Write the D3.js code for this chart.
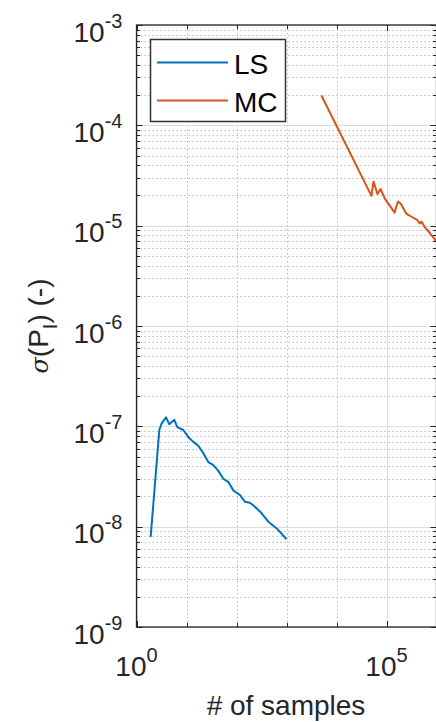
<!DOCTYPE html>
<html>
<head>
<meta charset="utf-8">
<script src="https://cdn.jsdelivr.net/npm/d3@7"></script>
<style>
    html, body { margin: 0; padding: 0; background: #fff; }
    svg { display: block; font-family: "Liberation Sans", Arial, sans-serif; }
</style>
</head>
<body>
<div id="chart"></div>
<script>
// Values (log-log plot, MATLAB look)
const lsSamples = [1.92, 2.86, 3.19, 3.89, 4.53, 5.70, 6.55, 8.63, 10.9, 13.7, 17.2, 21.7, 27.3,
    34.4, 43.3, 54.5, 68.5, 86.3, 117, 148, 186, 234, 319, 433, 637, 1000];
const lsSigma = [7.9e-9, 9.2e-8, 1.07e-7, 1.23e-7, 1.05e-7, 1.16e-7, 9.8e-8, 9.2e-8, 7.8e-8, 7.0e-8,
    6.4e-8, 5.4e-8, 4.4e-8, 4.1e-8, 3.6e-8, 3.0e-8, 2.8e-8, 2.3e-8, 2.07e-8, 1.77e-8, 1.73e-8,
    1.58e-8, 1.36e-8, 1.12e-8, 9.6e-9, 7.5e-9];

const mcSamples = [5000, 50000, 55000, 66000, 75900, 93300, 129000, 145000, 170000, 195000,
    251000, 324000, 407000, 468000, 501000, 589000, 741000, 1000000];
const mcSigma = [1.98e-4, 1.98e-5, 2.75e-5, 2.07e-5, 2.32e-5, 1.85e-5, 1.47e-5, 1.35e-5, 1.74e-5,
    1.64e-5, 1.31e-5, 1.22e-5, 1.14e-5, 1.05e-5, 1.10e-5, 9.6e-6, 8.4e-6, 6.97e-6];

const seriesNames = ['LS', 'MC'];
const seriesColors = ['#0072BD', '#D95319'];

const xMajorTicks = [1, 1e5];
const xMinorTicks = [1e1, 1e2, 1e3, 1e4, 1e6];
const yMajorTicks = [1e-9, 1e-8, 1e-7, 1e-6, 1e-5, 1e-4, 1e-3];

const xLabel = '# of samples';

function drawChart() {
    const width = 436, height = 722;
    const left = 136.5, right = 436.5, top = 25, bottom = 627;
    const axisColor = '#262626';

    const svg = d3.select('#chart')
        .append('svg')
        .attr('width', width)
        .attr('height', height);

    svg.append('rect')
        .attr('width', width)
        .attr('height', height)
        .attr('fill', '#fff');

    const x = d3.scaleLog().domain([1, 1e6]).range([left, right]);
    const y = d3.scaleLog().domain([1e-9, 1e-3]).range([bottom, top]);

    // minor y values: 2..9 inside each decade
    const yMinorTicks = [];
    yMajorTicks.slice(0, -1).forEach(d => {
        for (let k = 2; k <= 9; k++) yMinorTicks.push(k * d);
    });

    // grid, minor dotted first then major solid
    const grid = svg.append('g');
    grid.selectAll('.ygm')
        .data(yMinorTicks)
        .join('line')
        .attr('x1', left).attr('x2', right)
        .attr('y1', d => Math.round(y(d)) + 0.5)
        .attr('y2', d => Math.round(y(d)) + 0.5)
        .attr('stroke', '#bcbcbc')
        .attr('stroke-dasharray', '1.5,2.5');
    grid.selectAll('.xgm')
        .data(xMinorTicks)
        .join('line')
        .attr('y1', top).attr('y2', bottom)
        .attr('x1', d => Math.round(x(d)) + 0.5)
        .attr('x2', d => Math.round(x(d)) + 0.5)
        .attr('stroke', '#bcbcbc')
        .attr('stroke-dasharray', '1.5,2.5');
    grid.selectAll('.ygM')
        .data(yMajorTicks)
        .join('line')
        .attr('x1', left).attr('x2', right)
        .attr('y1', d => Math.round(y(d)) + 0.5)
        .attr('y2', d => Math.round(y(d)) + 0.5)
        .attr('stroke', '#dcdcdc');
    grid.selectAll('.xgM')
        .data(xMajorTicks)
        .join('line')
        .attr('y1', top).attr('y2', bottom)
        .attr('x1', d => Math.round(x(d)) + 0.5)
        .attr('x2', d => Math.round(x(d)) + 0.5)
        .attr('stroke', '#dcdcdc');

    // data lines
    svg.append('clipPath')
        .attr('id', 'plot-clip')
        .append('rect')
        .attr('x', left).attr('y', top)
        .attr('width', right - left).attr('height', bottom - top);

    const line = d3.line()
        .x(d => x(d[0]))
        .y(d => y(d[1]));

    const series = [
        d3.zip(lsSamples, lsSigma),
        d3.zip(mcSamples, mcSigma)
    ];

    svg.append('g')
        .attr('clip-path', 'url(#plot-clip)')
        .selectAll('path')
        .data(series)
        .join('path')
        .attr('fill', 'none')
        .attr('stroke', (d, i) => seriesColors[i])
        .attr('stroke-width', 2)
        .attr('stroke-linejoin', 'round')
        .attr('d', line);

    // ticks on all four sides (pointing inward)
    const tickG = svg.append('g').attr('stroke', axisColor).attr('stroke-width', 1);
    const addTicks = (vals, len, horizontal) => {
        vals.forEach(v => {
            if (horizontal) {
                const py = Math.round(y(v)) + 0.5;
                tickG.append('line').attr('x1', left).attr('x2', left + len).attr('y1', py).attr('y2', py);
                tickG.append('line').attr('x1', right).attr('x2', right - len).attr('y1', py).attr('y2', py);
            } else {
                const px = Math.round(x(v)) + 0.5;
                tickG.append('line').attr('y1', bottom).attr('y2', bottom - len).attr('x1', px).attr('x2', px);
                tickG.append('line').attr('y1', top).attr('y2', top + len).attr('x1', px).attr('x2', px);
            }
        });
    };
    addTicks(yMajorTicks, 6, true);
    addTicks(yMinorTicks, 3.5, true);
    addTicks(xMajorTicks, 6, false);
    addTicks(xMinorTicks, 4, false);

    // axis box
    svg.append('rect')
        .attr('x', left).attr('y', top)
        .attr('width', right - left).attr('height', bottom - top)
        .attr('fill', 'none')
        .attr('stroke', axisColor)
        .attr('stroke-width', 1.3);

    // axis tick labels, 10 with a superscript exponent
    const addPower = (sel, d) => {
        const e = Math.round(Math.log10(d));
        sel.append('tspan').text('10');
        sel.append('tspan')
            .attr('dy', -14)
            .attr('font-size', 20)
            .text(e < 0 ? '-' + (-e) : e);
    };

    svg.append('g')
        .selectAll('text')
        .data(xMajorTicks)
        .join('text')
        .attr('x', d => x(d))
        .attr('y', bottom + 49)
        .attr('text-anchor', 'middle')
        .attr('font-size', 28)
        .attr('fill', axisColor)
        .each(function(d) { addPower(d3.select(this), d); });

    svg.append('g')
        .selectAll('text')
        .data(yMajorTicks)
        .join('text')
        .attr('x', left - 14)
        .attr('y', d => y(d) + 16.5)
        .attr('text-anchor', 'end')
        .attr('font-size', 28)
        .attr('fill', axisColor)
        .each(function(d) { addPower(d3.select(this), d); });

    // axis titles
    svg.append('text')
        .attr('x', (left + right) / 2 - 0.5)
        .attr('y', 715)
        .attr('text-anchor', 'middle')
        .attr('font-size', 28)
        .attr('fill', axisColor)
        .text(xLabel);

    const yTitle = svg.append('text')
        .attr('transform', 'translate(48,326) rotate(-90)')
        .attr('text-anchor', 'middle')
        .attr('font-size', 28)
        .attr('fill', axisColor);
    yTitle.append('tspan').attr('font-style', 'italic').attr('font-family', 'DejaVu Serif').attr('font-size', 24).text('σ');
    yTitle.append('tspan').text('(P');
    yTitle.append('tspan').attr('dy', 9).attr('font-size', 20).text('I');
    yTitle.append('tspan').attr('dy', -9).text(') (-)');

    // legend
    const legend = svg.append('g');
    legend.append('rect')
        .attr('x', 150.5).attr('y', 39.5)
        .attr('width', 135).attr('height', 82)
        .attr('fill', '#fff')
        .attr('stroke', '#333')
        .attr('stroke-width', 1.5);

    const rows = legend.selectAll('g')
        .data(seriesNames)
        .join('g')
        .attr('transform', (d, i) => `translate(0,${i === 0 ? 62.5 : 100.5})`);
    rows.append('line')
        .attr('x1', 157).attr('x2', 228)
        .attr('stroke', (d, i) => seriesColors[i])
        .attr('stroke-width', 2);
    rows.append('text')
        .attr('x', 234)
        .attr('y', 11.5)
        .attr('font-size', 28)
        .attr('fill', '#000')
        .text(d => d);
}

drawChart();
</script>
</body>
</html>
